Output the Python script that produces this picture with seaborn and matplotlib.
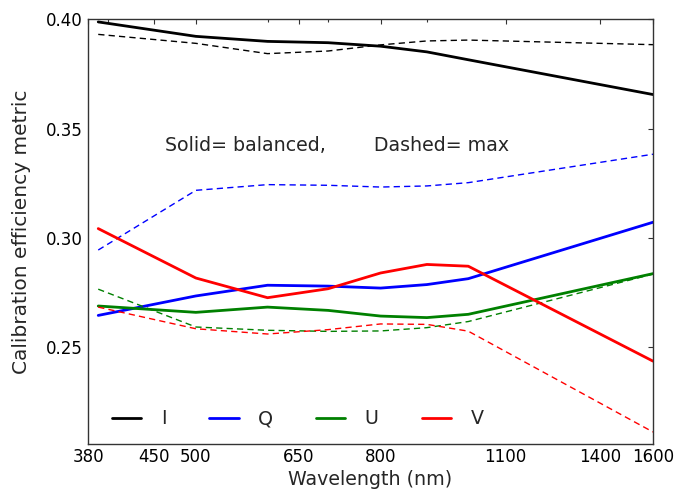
import matplotlib
matplotlib.use("Agg")
import matplotlib.pyplot as plt
from matplotlib.ticker import NullFormatter, FixedLocator
import seaborn as sns

# ---- data ----
wavelengths = [390, 500, 600, 700, 800, 900, 1000, 1600]

I_balanced = [0.3988, 0.3922, 0.3899, 0.3893, 0.3877, 0.3851, 0.3815, 0.3656]
I_max      = [0.3931, 0.3890, 0.3843, 0.3855, 0.3883, 0.3901, 0.3905, 0.3884]
Q_balanced = [0.2646, 0.2735, 0.2784, 0.2780, 0.2771, 0.2787, 0.2814, 0.3072]
Q_max      = [0.2945, 0.3218, 0.3244, 0.3241, 0.3233, 0.3238, 0.3253, 0.3383]
U_balanced = [0.2689, 0.2660, 0.2684, 0.2669, 0.2643, 0.2636, 0.2651, 0.2837]
U_max      = [0.2766, 0.2593, 0.2578, 0.2573, 0.2575, 0.2590, 0.2618, 0.2835]
V_balanced = [0.3043, 0.2817, 0.2727, 0.2768, 0.2840, 0.2879, 0.2871, 0.2437]
V_max      = [0.2684, 0.2585, 0.2561, 0.2581, 0.2607, 0.2605, 0.2574, 0.2113]

series_names = ["I", "Q", "U", "V"]
series_colors = ["#000000", "#0000ff", "#008000", "#ff0000"]
balanced = [I_balanced, Q_balanced, U_balanced, V_balanced]
maxed = [I_max, Q_max, U_max, V_max]

xtick_values = [380, 450, 500, 650, 800, 1100, 1400, 1600]
xtick_labels = ["380", "450", "500", "650", "800", "1100", "1400", "1600"]
ytick_values = [0.25, 0.30, 0.35, 0.40]
ytick_labels = ["0.25", "0.30", "0.35", "0.40"]

# ---- style ----
sns.set_style("white")
plt.rcParams["font.family"] = ["DejaVu Sans"]

fig = plt.figure(figsize=(6.74, 4.91), dpi=100)
ax = fig.add_axes([0.1306, 0.0957, 0.9688 - 0.1306, 0.9607 - 0.0957])

handles = []
for name, col, sol, dsh in zip(series_names, series_colors, balanced, maxed):
    sns.lineplot(x=wavelengths, y=sol, color=col, linewidth=2.0, ax=ax)
    handles.append(ax.lines[-1])
    sns.lineplot(x=wavelengths, y=dsh, color=col, linewidth=1.0,
                 linestyle=(0, (4.5, 3)), ax=ax)

ax.set_xscale("log")
ax.set_xlim(380, 1600)
ax.set_ylim(0.2058, 0.40)

ax.xaxis.set_major_locator(FixedLocator(xtick_values))
ax.set_xticklabels(xtick_labels)
ax.xaxis.set_minor_formatter(NullFormatter())
ax.set_yticks(ytick_values)
ax.set_yticklabels(ytick_labels)

ax.tick_params(axis="both", which="both", direction="in", top=True, right=True,
               colors="#333333", labelcolor="black")
ax.tick_params(axis="both", which="major", length=3.5, width=0.8, labelsize=12)
ax.tick_params(axis="x", which="major", pad=3)
ax.tick_params(axis="y", which="major", pad=4)
ax.tick_params(axis="both", which="minor", length=2, width=0.8)
ax.tick_params(axis="y", which="minor", left=False, right=False)

for sp in ax.spines.values():
    sp.set_visible(True)
    sp.set_color("#333333")
    sp.set_linewidth(1.0)

ax.set_xlabel("Wavelength (nm)", fontsize=13.7, labelpad=3)
ax.set_ylabel("Calibration efficiency metric", fontsize=14.5)
ax.yaxis.set_label_coords(-0.101, 0.5)

ax.text(0.136, (0.3425 - 0.2058) / (0.40 - 0.2058),
        "Solid= balanced,        Dashed= max", fontsize=13.7,
        transform=ax.transAxes, va="center", ha="left")

ax.legend(handles=handles, labels=series_names, loc="center left",
          bbox_to_anchor=(0.0425, 0.059), ncol=4, frameon=False, fontsize=13.7,
          handlelength=1.54, handletextpad=1.02, columnspacing=2.26,
          borderpad=0, borderaxespad=0)

fig.savefig("out.png", dpi=100)
